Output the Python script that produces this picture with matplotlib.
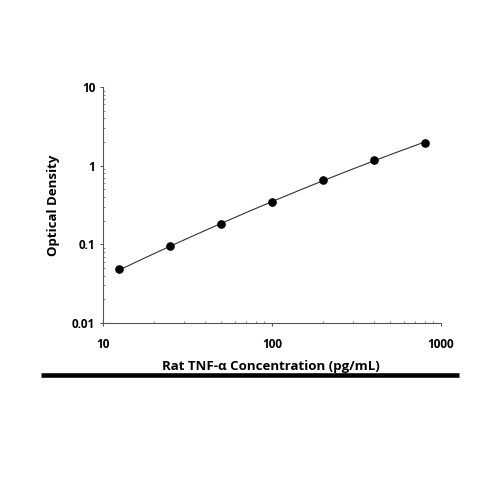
import numpy as np
import matplotlib
matplotlib.use("Agg")
import matplotlib.pyplot as plt
from matplotlib.ticker import LogLocator, FixedLocator, NullFormatter

conc = [12.5, 25, 50, 100, 200, 400, 800]
od = [0.048, 0.094, 0.181, 0.343, 0.66, 1.18, 1.95]
x_ticks = [10, 100, 1000]
x_tick_labels = ["10", "100", "1000"]
y_ticks = [0.01, 0.1, 1, 10]
y_tick_labels = ["0.01", "0.1", "1", "10"]
x_label = "Rat TNF-\u03b1 Concentration (pg/mL)"
y_label = "Optical Density"

plt.rcParams['font.family'] = ['Open Sans', 'DejaVu Sans']

fig = plt.figure(figsize=(5, 5), dpi=100)
ax = fig.add_axes([0.206, 0.354, 0.676, 0.472])

# smooth fitted curve (quadratic in log-log space)
lx = np.log10(conc)
ly = np.log10(od)
coef = np.polyfit(lx, ly, 2)
xs = np.linspace(lx.min(), lx.max(), 200)
ax.plot(10 ** xs, 10 ** np.polyval(coef, xs), color="#333333", lw=0.8, zorder=2)
ax.plot(conc, od, "o", color="black", ms=5.2, zorder=3)

ax.set_xscale("log")
ax.set_yscale("log")
ax.set_xlim(10, 1000)
ax.set_ylim(0.01, 10)

ax.xaxis.set_major_locator(FixedLocator(x_ticks))
ax.set_xticklabels(x_tick_labels)
ax.yaxis.set_major_locator(FixedLocator(y_ticks))
ax.set_yticklabels(y_tick_labels)
ax.xaxis.set_minor_locator(LogLocator(base=10, subs=np.arange(2, 10)))
ax.yaxis.set_minor_locator(LogLocator(base=10, subs=np.arange(2, 10)))
ax.xaxis.set_minor_formatter(NullFormatter())
ax.yaxis.set_minor_formatter(NullFormatter())

for s in ["top", "right"]:
    ax.spines[s].set_visible(False)
for s in ["left", "bottom"]:
    ax.spines[s].set_color("#555555")
    ax.spines[s].set_linewidth(0.8)

ax.tick_params(which="major", direction="out", length=2.5, width=0.7, color="#555555")
ax.tick_params(which="minor", direction="in", length=1.5, width=0.6, color="#777777")
ax.tick_params(axis="x", which="major", pad=8, labelsize=8.5)
ax.tick_params(axis="y", which="major", pad=3, labelsize=8.5)
for lab in ax.get_xticklabels() + ax.get_yticklabels():
    lab.set_fontweight("bold")

ax.set_ylabel(y_label, fontsize=9.5, fontweight="bold", labelpad=9)
fig.text(0.541, 0.267, x_label, ha="center", va="center", fontsize=9.5, fontweight="bold")

fig.add_artist(matplotlib.lines.Line2D([0.082, 0.918], [0.251, 0.251], color="black", lw=3.3,
                                       transform=fig.transFigure, solid_capstyle="butt"))

fig.savefig("out.png", dpi=100, facecolor="white")
